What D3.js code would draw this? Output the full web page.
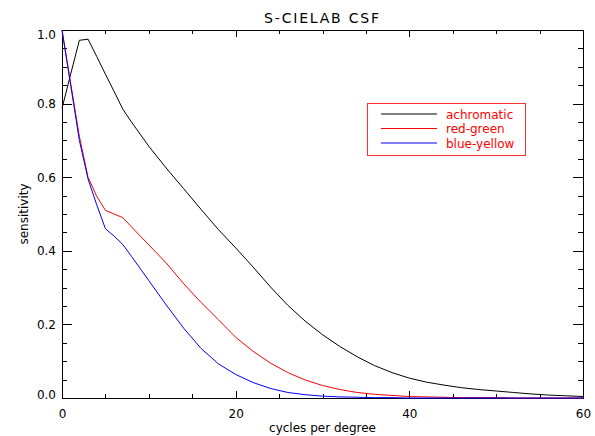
<!DOCTYPE html>
<html>
<head>
<meta charset="utf-8">
<script src="https://cdn.jsdelivr.net/npm/d3@7"></script>
<style>
  body { margin: 0; background: #fff; }
  svg { font-family: "DejaVu Sans", sans-serif; }
  .axis path, .axis line { stroke: #000; shape-rendering: crispEdges; }
  .axis text { font-size: 12px; fill: #000; font-family: "DejaVu Sans", sans-serif; }
</style>
</head>
<body>
<div id="chart"></div>
<script>
// valores
var freqs = [0, 1, 2, 3, 4, 5, 6, 7, 8, 10, 12, 14, 16, 18, 20, 22, 24, 26, 28, 30,
             32, 34, 36, 38, 40, 42, 44, 46, 48, 50, 52, 54, 56, 58, 60];
var achromatic = [0.787, 0.880, 0.972, 0.975, 0.928, 0.880, 0.833, 0.785, 0.750, 0.684,
                  0.625, 0.569, 0.513, 0.458, 0.408, 0.356, 0.302, 0.252, 0.209, 0.172,
                  0.140, 0.112, 0.088, 0.069, 0.054, 0.043, 0.035, 0.028, 0.023, 0.019,
                  0.015, 0.011, 0.008, 0.006, 0.004];
var redGreen = [1.000, 0.855, 0.711, 0.600, 0.548, 0.510, 0.500, 0.490, 0.465, 0.416,
                0.367, 0.311, 0.260, 0.213, 0.165, 0.127, 0.095, 0.069, 0.049, 0.034,
                0.023, 0.015, 0.010, 0.007, 0.004, 0.003, 0.002, 0.001, 0.001, 0.001,
                0, 0, 0, 0, 0];
var blueYellow = [1.000, 0.850, 0.700, 0.595, 0.525, 0.460, 0.440, 0.417, 0.385, 0.319,
                  0.253, 0.190, 0.135, 0.093, 0.064, 0.042, 0.026, 0.015, 0.009, 0.005,
                  0.003, 0.002, 0.001, 0.001, 0, 0, 0, 0, 0, 0, 0, 0, 0, 0, 0];
var seriesNames = ["achromatic", "red-green", "blue-yellow"];
var seriesColors = ["#000000", "#ff0000", "#0000ff"];
var xTicks = [0, 20, 40, 60];
var yTicks = [0, 0.2, 0.4, 0.6, 0.8, 1.0];

var width = 595, height = 436;
var margin = {top: 30, right: 12, bottom: 38, left: 62};

var svg = d3.select("#chart").append("svg")
    .attr("width", width)
    .attr("height", height);

var x = d3.scaleLinear().domain([0, 60]).range([margin.left, width - margin.right]);
var y = d3.scaleLinear().domain([0, 1]).range([height - margin.bottom, margin.top]);

// eixos (ticks para dentro, como no IDL)
var xMajor = 7.4, xMinor = 3.7, yMajor = 10.4, yMinor = 5.2;
var minorX = d3.range(0, 61, 5), minorY = d3.range(0, 1.001, 0.05);

function addAxis(axis, tx, ty, cls) {
  return svg.append("g").attr("class", "axis " + cls)
    .attr("transform", "translate(" + tx + "," + ty + ")")
    .call(axis);
}

addAxis(d3.axisBottom(x).tickValues(xTicks).tickFormat(d3.format("d"))
    .tickSizeInner(-xMajor).tickSizeOuter(0).tickPadding(11), 0, y(0), "x");
addAxis(d3.axisBottom(x).tickValues(minorX).tickFormat("").tickSizeInner(-xMinor).tickSizeOuter(0), 0, y(0), "xm");
addAxis(d3.axisTop(x).tickValues(xTicks).tickFormat("").tickSizeInner(-xMajor).tickSizeOuter(0), 0, y(1), "xt");
addAxis(d3.axisTop(x).tickValues(minorX).tickFormat("").tickSizeInner(-xMinor).tickSizeOuter(0), 0, y(1), "xtm");

var left = addAxis(d3.axisLeft(y).tickValues(yTicks).tickFormat(d3.format(".1f"))
    .tickSizeInner(-yMajor).tickSizeOuter(0).tickPadding(6), x(0), 0, "y");
addAxis(d3.axisLeft(y).tickValues(minorY).tickFormat("").tickSizeInner(-yMinor).tickSizeOuter(0), x(0), 0, "ym");
addAxis(d3.axisRight(y).tickValues(yTicks).tickFormat("").tickSizeInner(-yMajor).tickSizeOuter(0), x(60), 0, "yr");
addAxis(d3.axisRight(y).tickValues(minorY).tickFormat("").tickSizeInner(-yMinor).tickSizeOuter(0), x(60), 0, "yrm");

// rótulos extremos deslocados para dentro
left.selectAll(".tick text").attr("dy", function(d) {
  if (d === 0) return "0.0em";
  if (d === 1) return "0.68em";
  return "0.32em";
});

// curvas
var curves = [achromatic, redGreen, blueYellow];
var line = d3.line()
  .x(function(d, i) { return x(freqs[i]); })
  .y(function(d) { return y(d); });

svg.selectAll(".curve")
  .data(curves)
  .enter().append("path")
    .attr("class", "curve")
    .attr("fill", "none")
    .attr("stroke-width", 1)
    .attr("stroke", function(d, i) { return seriesColors[i]; })
    .attr("d", line);

// títulos
svg.append("text")
  .attr("x", (x(0) + x(60)) / 2)
  .attr("y", 23)
  .attr("text-anchor", "middle")
  .style("font-size", "14px")
  .style("letter-spacing", "1.8px")
  .text("S-CIELAB CSF");

svg.append("text")
  .attr("x", (x(0) + x(60)) / 2)
  .attr("y", 432)
  .attr("text-anchor", "middle")
  .style("font-size", "12px")
  .text("cycles per degree");

svg.append("text")
  .attr("transform", "translate(28," + (y(0) + y(1)) / 2 + ") rotate(-90)")
  .attr("text-anchor", "middle")
  .style("font-size", "12px")
  .text("sensitivity");

// legenda
var legend = svg.append("g").attr("transform", "translate(367,103)");
legend.append("rect")
  .attr("x", 0.5).attr("y", 0.5)
  .attr("width", 158).attr("height", 52)
  .attr("fill", "none")
  .attr("stroke", "#ff3030");

var items = legend.selectAll(".item")
  .data(seriesNames)
  .enter().append("g")
    .attr("class", "item")
    .attr("transform", function(d, i) { return "translate(0," + (11 + i * 14.5) + ")"; });

items.append("line")
  .attr("x1", 14).attr("x2", 70)
  .attr("y1", 0).attr("y2", 0)
  .style("stroke", function(d, i) { return seriesColors[i]; })
  .style("stroke-width", 1);

items.append("text")
  .attr("x", 79).attr("y", 4.5)
  .attr("fill", "#ff0000")
  .style("font-size", "12px")
  .text(function(d) { return d; });
</script>
</body>
</html>
